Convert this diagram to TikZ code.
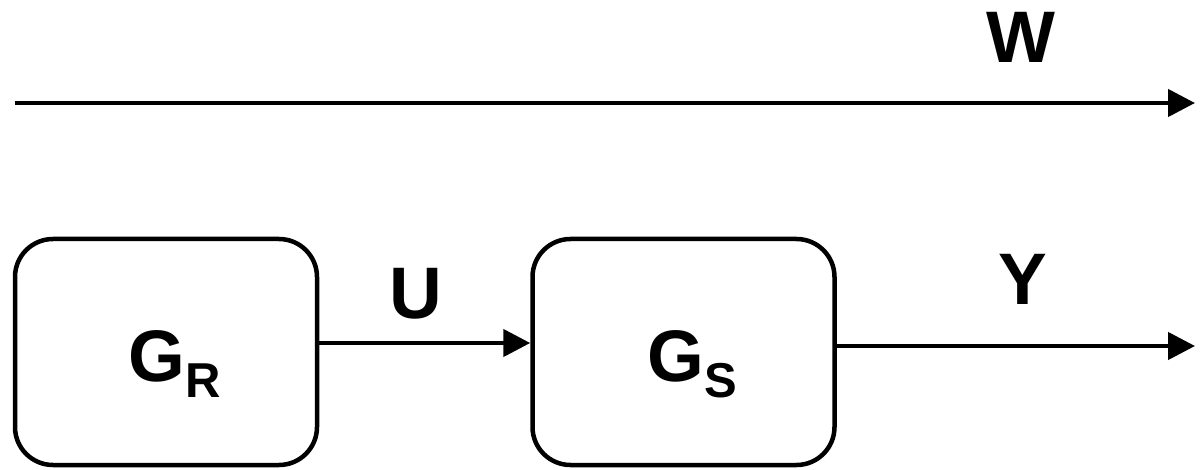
\documentclass[tikz,border=0pt]{standalone}
\usepackage{fontspec}
\setmainfont{Liberation Sans}
\usetikzlibrary{arrows.meta,positioning}
\newcommand{\lowsub}[1]{\raisebox{-16pt}{\fontsize{49}{55}\selectfont #1}}
\tikzset{
  block/.style={draw, line width=4.5pt, rounded corners=38pt, minimum width=302pt, minimum height=226pt,
    text height=59pt, text depth=0pt, font=\fontsize{73}{80}\selectfont\bfseries},
  signal/.style={line width=4.5pt, -{Triangle[length=27pt,width=27pt]}},
  sig/.style={font=\fontsize{73}{80}\selectfont\bfseries, anchor=base, inner sep=0pt}
}
\begin{document}
\begin{tikzpicture}[x=1pt,y=-1pt]
  \useasboundingbox (0,0) rectangle (1204,470);
  \node[block] (GR) at (166,352) {\hspace*{17pt}G\lowsub{R}};
  \node[block, right=211pt of GR] (GS) {\hspace*{17pt}G\lowsub{S}};

  \coordinate (Wstart) at (15,103);
  \coordinate (Wend) at (1195,103);
  \coordinate (Yend) at (1195,346);

  \draw[signal] (Wstart) -- (Wend);
  \node[sig] (W) at (1021,63) {W};
  \draw[signal] ([yshift=9pt]GR.east) -- node[sig, pos=0.46, yshift=25pt] (U) {U} ([yshift=9pt]GR.east -| GS.west);
  \draw[signal] ([yshift=6pt]GS.east) -- node[sig, pos=0.52, yshift=41pt] (Y) {Y} (Yend);
\end{tikzpicture}
\end{document}
